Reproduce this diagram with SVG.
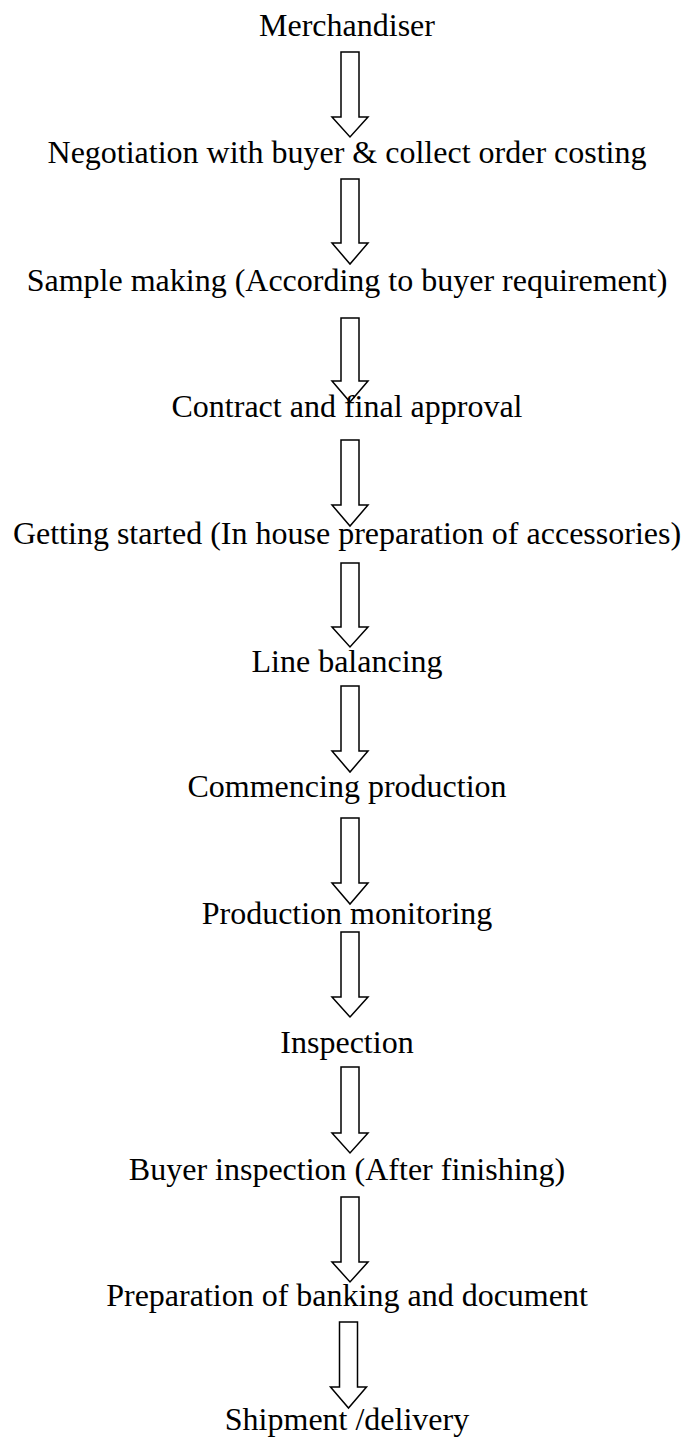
<svg xmlns="http://www.w3.org/2000/svg" width="685" height="1439" viewBox="0 0 685 1439">
<style>
.t{font-family:"Liberation Serif","Times New Roman",serif;font-size:32px;fill:#000;text-anchor:middle}
.a{fill:#fff;stroke:#000;stroke-width:1.5;stroke-linejoin:miter}
</style>
<rect width="685" height="1439" fill="#fff"/>
<g id="connectors">
<path class="a" d="M341,52 H359 V117 H368 L350,137 L332,117 H341 Z"/>
<path class="a" d="M341,179 H359 V243 H368 L350,264 L332,243 H341 Z"/>
<path class="a" d="M341,318 H359 V381 H368 L350,402 L332,381 H341 Z"/>
<path class="a" d="M341,440 H359 V505 H368 L350,526 L332,505 H341 Z"/>
<path class="a" d="M341,563 H359 V627 H368 L350,647 L332,627 H341 Z"/>
<path class="a" d="M341,686 H359 V751 H368 L350,772 L332,751 H341 Z"/>
<path class="a" d="M341,818 H359 V883 H368 L350,904 L332,883 H341 Z"/>
<path class="a" d="M341,932 H359 V997 H368 L350,1017 L332,997 H341 Z"/>
<path class="a" d="M341,1067 H359 V1133 H368 L350,1153 L332,1133 H341 Z"/>
<path class="a" d="M341,1197 H359 V1262 H368 L350,1282 L332,1262 H341 Z"/>
<path class="a" d="M339.5,1322 H357.5 V1387 H366.5 L348.5,1408 L330.5,1387 H339.5 Z"/>
</g>
<g id="n1"><text class="t" x="347" y="36">Merchandiser</text></g>
<g id="n2"><text class="t" x="347" y="163">Negotiation with buyer &amp; collect order costing</text></g>
<g id="n3"><text class="t" x="347" y="291">Sample making (According to buyer requirement)</text></g>
<g id="n4"><text class="t" x="347" y="417">Contract and final approval</text></g>
<g id="n5"><text class="t" x="347" y="544">Getting started (In house preparation of accessories)</text></g>
<g id="n6"><text class="t" x="347" y="672">Line balancing</text></g>
<g id="n7"><text class="t" x="347" y="797">Commencing production</text></g>
<g id="n8"><text class="t" x="347" y="924">Production monitoring</text></g>
<g id="n9"><text class="t" x="347" y="1053">Inspection</text></g>
<g id="n10"><text class="t" x="347" y="1180">Buyer inspection (After finishing)</text></g>
<g id="n11"><text class="t" x="347" y="1306">Preparation of banking and document</text></g>
<g id="n12"><text class="t" x="347" y="1430">Shipment /delivery</text></g>
</svg>
